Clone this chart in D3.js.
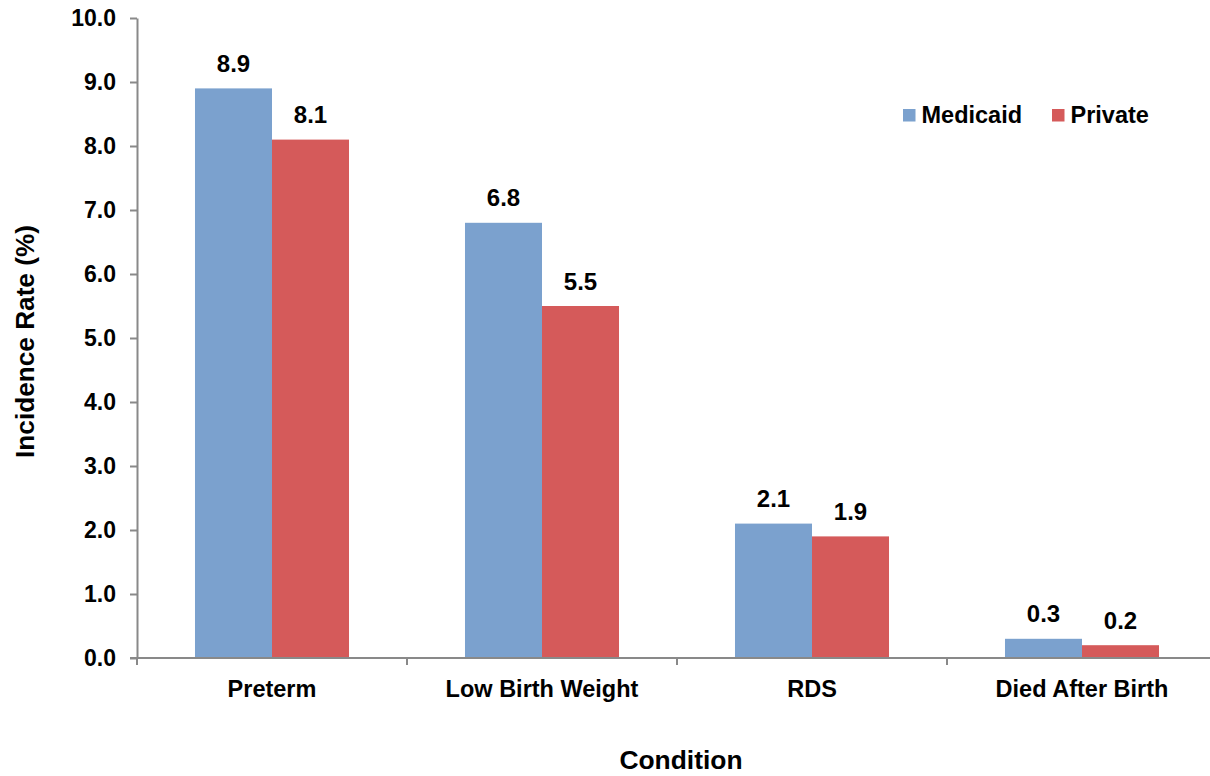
<!DOCTYPE html>
<html>
<head>
<meta charset="utf-8">
<script src="https://cdn.jsdelivr.net/npm/d3@7"></script>
<style>
  html, body { margin: 0; padding: 0; background: #fff; }
  svg { display: block; font-family: "Liberation Sans", Arial, sans-serif; }
</style>
</head>
<body>
<svg id="chart" width="1210" height="776"></svg>
<script>
// Incidence of neonatal conditions by payer type
const categories = ["Preterm", "Low Birth Weight", "RDS", "Died After Birth"];
const seriesNames = ["Medicaid", "Private"];
const medicaid = [8.9, 6.8, 2.1, 0.3];
const privateIns = [8.1, 5.5, 1.9, 0.2];
const yTicks = [0, 1, 2, 3, 4, 5, 6, 7, 8, 9, 10];
const colors = ["#7BA1CE", "#D55A5A"];

const svg = d3.select("#chart");
const plot = { left: 137, right: 1217, top: 18, bottom: 658 };

const x = d3.scaleBand().domain(categories).range([plot.left, plot.right]).paddingInner(0).paddingOuter(0);
const xSub = d3.scaleBand().domain(seriesNames).range([0, x.bandwidth()]).paddingInner(0).paddingOuter(0.753);
const y = d3.scaleLinear().domain([0, 10]).range([plot.bottom, plot.top]);

const rows = categories.map((c, i) => ({ cat: c, values: [medicaid[i], privateIns[i]] }));

// Bars
const groups = svg.append("g").selectAll("g").data(rows).join("g")
  .attr("transform", d => `translate(${x(d.cat)},0)`);
groups.selectAll("rect").data(d => d.values.map((v, j) => ({ name: seriesNames[j], v, j })))
  .join("rect")
  .attr("x", d => xSub(d.name))
  .attr("width", xSub.bandwidth())
  .attr("y", d => y(d.v))
  .attr("height", d => y(0) - y(d.v))
  .attr("fill", d => colors[d.j]);

// Value labels
groups.selectAll("text").data(d => d.values.map((v, j) => ({ name: seriesNames[j], v })))
  .join("text")
  .attr("x", d => xSub(d.name) + xSub.bandwidth() / 2)
  .attr("y", d => y(d.v) - 16.5)
  .attr("text-anchor", "middle")
  .style("font-size", "24px").style("font-weight", "bold").attr("fill", "#000")
  .text(d => d3.format(".1f")(d.v));

// Y axis
const yAxis = svg.append("g").attr("transform", `translate(${plot.left},0)`)
  .call(d3.axisLeft(y).tickValues(yTicks).tickFormat(d3.format(".1f")).tickSize(7).tickSizeOuter(0).tickPadding(14));
yAxis.select(".domain").attr("stroke", "#898989").attr("stroke-width", 2);
yAxis.selectAll(".tick line").attr("stroke", "#898989").attr("stroke-width", 2);
yAxis.selectAll(".tick text").style("font-size", "23px").style("font-weight", "bold").attr("fill", "#000")
  .style("font-family", "'Liberation Sans', Arial, sans-serif");

// X axis: baseline with ticks at category boundaries
const xAxis = svg.append("g");
xAxis.append("line")
  .attr("x1", plot.left - 7).attr("x2", plot.right)
  .attr("y1", y(0)).attr("y2", y(0))
  .attr("stroke", "#898989").attr("stroke-width", 2);
const bounds = categories.map(c => x(c)).concat([x(categories[categories.length - 1]) + x.bandwidth()]);
xAxis.selectAll("line.tk").data(bounds).join("line").attr("class", "tk")
  .attr("x1", d => d).attr("x2", d => d)
  .attr("y1", y(0)).attr("y2", y(0) + 7)
  .attr("stroke", "#898989").attr("stroke-width", 2);
xAxis.selectAll("text").data(categories).join("text")
  .attr("x", d => x(d) + x.bandwidth() / 2)
  .attr("y", 697)
  .attr("text-anchor", "middle")
  .style("font-size", "23.5px").style("font-weight", "bold").attr("fill", "#000")
  .text(d => d);

// Axis titles
svg.append("text")
  .attr("x", 681).attr("y", 769)
  .attr("text-anchor", "middle")
  .style("font-size", "26.4px").style("font-weight", "bold")
  .text("Condition");
svg.append("text")
  .attr("transform", "translate(34,341.5) rotate(-90)")
  .attr("text-anchor", "middle")
  .style("font-size", "26.2px").style("font-weight", "bold")
  .text("Incidence Rate (%)");

// Legend
const legendPos = [903, 1052];
const legend = svg.append("g").selectAll("g").data(seriesNames).join("g")
  .attr("transform", (d, i) => `translate(${legendPos[i]},109)`);
legend.append("rect").attr("width", 12.5).attr("height", 12.5).attr("fill", (d, i) => colors[i]);
legend.append("text").attr("x", 18.5).attr("y", 13.5)
  .style("font-size", "23.5px").style("font-weight", "bold")
  .text(d => d);
</script>
</body>
</html>
